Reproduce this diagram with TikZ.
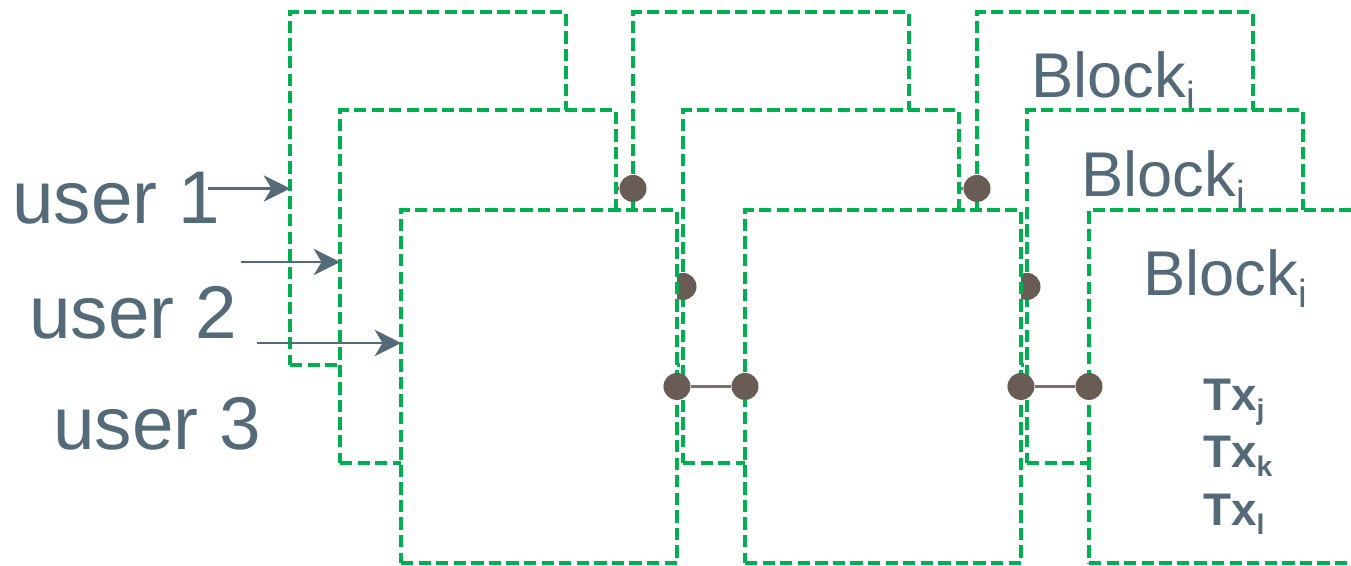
\documentclass[tikz,border=0pt]{standalone}
\usepackage{fontspec}
\setmainfont{Liberation Sans}
\usepackage{graphicx}
\usetikzlibrary{arrows.meta}
\definecolor{grn}{HTML}{00B050}
\definecolor{slate}{RGB}{84,106,120}
\definecolor{dotc}{RGB}{104,92,84}
\definecolor{linkc}{RGB}{125,112,104}
\newcommand{\idx}[1]{\raisebox{-0.2em}{\scalebox{0.62}{#1}}}

\begin{document}
\begin{tikzpicture}[x=0.02cm,y=-0.02cm,
  blk/.style={rectangle,draw=grn,fill=white,line width=2pt,dash pattern=on 7pt off 3pt,
    minimum width=5.52cm,minimum height=7.06cm,inner sep=0pt,outer sep=0pt,anchor=north west},
  joint/.style={circle,fill=dotc,minimum size=0.54cm,inner sep=0pt},
  link/.style={draw=linkc,line width=1.6pt},
  arr/.style={-{Stealth[length=15pt,width=15pt,inset=4.5pt]},draw=slate,line width=1.2pt},
  user/.style={font=\fontsize{42.5}{50}\selectfont,text=slate,anchor=base west,inner sep=0pt},
  lbl/.style={font=\fontsize{36}{43}\selectfont,text=slate,anchor=base west,inner sep=0pt},
  tx/.style={font=\bfseries\fontsize{26}{31}\selectfont,text=slate,anchor=base west,inner sep=0pt}]

\useasboundingbox (0,0) rectangle (1351,565);
\clip (0,0) rectangle (1351,565);

% back layer (chain of user 1)
\node[blk] (b1) at (290,12) {};
\node[blk] (b2) at (633,12) {};
\node[blk] (b3) at (977,12) {};
\node[lbl] (bt) at (1031,97) {Block\idx{i}};
\node[joint] (bj1) at (b1.east) {};
\node[joint] (bj2) at (b2.west) {};
\node[joint] (bj3) at (b2.east) {};
\node[joint] (bj4) at (b3.west) {};
\draw[link] (bj1) -- (bj2); \draw[link] (bj3) -- (bj4);

% middle layer (chain of user 2)
\node[blk] (m1) at (340,110) {};
\node[blk] (m2) at (683,110) {};
\node[blk] (m3) at (1027,110) {};
\node[lbl] (mt) at (1081,196) {Block\idx{i}};
\node[joint] (mj1) at (m1.east) {};
\node[joint] (mj2) at (m2.west) {};
\node[joint] (mj3) at (m2.east) {};
\node[joint] (mj4) at (m3.west) {};
\draw[link] (mj1) -- (mj2); \draw[link] (mj3) -- (mj4);

% front layer (chain of user 3)
\node[blk] (f1) at (401,210) {};
\node[blk] (f2) at (745,210) {};
\node[blk,minimum width=7cm] (f3) at (1089,210) {};
\node[lbl] (ft) at (1143,295) {Block\idx{i}};
\node[joint] (fj1) at (f1.east) {};
\node[joint] (fj2) at (f2.west) {};
\node[joint] (fj3) at (f2.east) {};
\node[joint] (fj4) at (f3.west) {};
\draw[link] (fj1) -- (fj2); \draw[link] (fj3) -- (fj4);

% transactions of the last block
\node[tx] (tj) at (1203,410) {Tx\idx{j}};
\node[tx] (tk) at (1203,467) {Tx\idx{k}};
\node[tx] (tl) at (1203,525) {Tx\idx{l}};

% users
\node[user] (u1) at (12,223) {user 1};
\node[user] (u2) at (29,338) {user 2};
\node[user] (u3) at (53,449) {user 3};
\coordinate (a1) at (208,188.5);
\coordinate (a2) at (241,262);
\coordinate (a3) at (257,343);
\draw[arr] (a1) -- (a1 -| b1.west);
\draw[arr] (a2) -- (a2 -| m1.west);
\draw[arr] (a3) -- (a3 -| f1.west);
\end{tikzpicture}
\end{document}
